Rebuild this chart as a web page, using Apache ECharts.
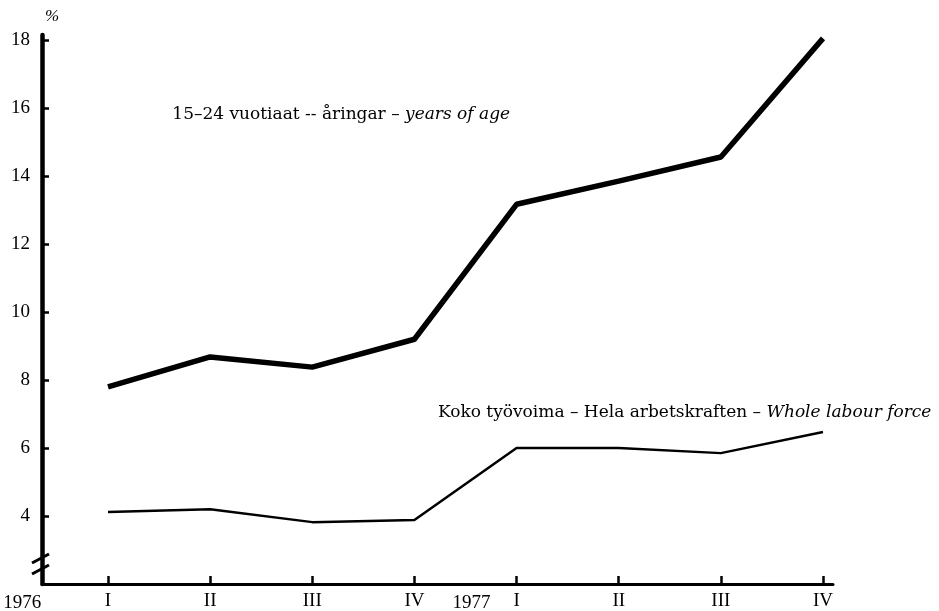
<!DOCTYPE html>
<html>
<head>
<meta charset="utf-8">
<script src="https://cdn.jsdelivr.net/npm/echarts@6/dist/echarts.min.js"></script>
<style>
  html, body { margin: 0; padding: 0; background: #fff; }
  #chart { width: 939px; height: 611px; }
</style>
</head>
<body>
<div id="chart"></div>
<script>
// quarters 1976 I .. 1977 IV at positions 1..8
const quarterPos = [1, 2, 3, 4, 5, 6, 7, 8]
const quarterLabels = ['I', 'II', 'III', 'IV', 'I', 'II', 'III', 'IV']
const years = ['1976', '1977']
const yearPos = [0.16, 4.56]
const youth = [7.8, 8.68, 8.38, 9.2, 13.17, 13.85, 14.56, 18.05]
const whole = [4.12, 4.2, 3.82, 3.88, 6.0, 6.0, 5.85, 6.47]
const yTicks = [4, 6, 8, 10, 12, 14, 16, 18]

const font = 'Liberation Serif, Times New Roman, serif'
const capFont = 'DejaVu Serif, serif'
const chart = echarts.init(document.getElementById('chart'))

const toPairs = vals => vals.map((v, i) => [quarterPos[i], v])

chart.setOption({
  animation: false,
  backgroundColor: '#fff',
  grid: { left: 42, right: 106, top: 35, bottom: 27 },
  xAxis: {
    type: 'value',
    min: 0.354,
    max: 8.098,
    splitLine: { show: false },
    axisLine: { lineStyle: { color: '#000', width: 3 } },
    axisTick: {
      customValues: quarterPos,
      inside: true,
      length: 8,
      lineStyle: { color: '#000', width: 2.5 }
    },
    axisLabel: {
      customValues: quarterPos,
      formatter: v => quarterLabels[quarterPos.indexOf(v)] || '',
      color: '#000',
      fontFamily: font,
      fontSize: 19,
      margin: 8
    }
  },
  yAxis: {
    type: 'value',
    min: 2,
    max: 18.15,
    name: '%',
    nameGap: 10,
    nameTextStyle: {
      color: '#000', fontFamily: font, fontSize: 17, fontStyle: 'italic',
      align: 'left', padding: [0, 0, 0, 3]
    },
    splitLine: { show: false },
    axisLine: { lineStyle: { color: '#000', width: 4.5 } },
    axisTick: {
      customValues: yTicks,
      inside: true,
      length: 7,
      lineStyle: { color: '#000', width: 2.5 }
    },
    axisLabel: {
      customValues: yTicks,
      color: '#000',
      fontFamily: font,
      fontSize: 19,
      margin: 12
    }
  },
  series: [
    {
      type: 'line',
      data: toPairs(youth),
      symbol: 'none',
      lineStyle: { color: '#000', width: 5.5 }
    },
    {
      type: 'line',
      data: toPairs(whole),
      symbol: 'none',
      lineStyle: { color: '#000', width: 2.5 }
    }
  ]
})

const px = (x, y) => chart.convertToPixel({ gridIndex: 0 }, [x, y])

// year labels under the axis, break marks on the y axis, series captions
const graphics = years.map((t, i) => {
  const p = px(yearPos[i], 2)
  return {
    type: 'text',
    x: p[0],
    y: p[1] + 10,
    style: { text: t, fill: '#000', font: '19px ' + font, align: 'center', verticalAlign: 'top' }
  }
})

const axisX = px(0.354, 2)[0]
;[556, 567].forEach(y => {
  graphics.push({
    type: 'line',
    shape: { x1: axisX - 10, y1: y + 7, x2: axisX + 7, y2: y - 2 },
    style: { stroke: '#000', lineWidth: 3 }
  })
})

const capStyle = {
  fill: '#000',
  font: '17px ' + capFont,
  verticalAlign: 'middle',
  rich: { i: { fontStyle: 'italic', fontFamily: capFont, fontSize: 17, fill: '#000' } }
}

const capYouth = px(1.63, 15.8)
graphics.push({
  type: 'text',
  x: capYouth[0],
  y: capYouth[1],
  style: Object.assign({ text: '15–24 vuotiaat -- åringar – {i|years of age}' }, capStyle)
})

const capWhole = px(4.23, 7.05)
graphics.push({
  type: 'text',
  x: capWhole[0],
  y: capWhole[1],
  style: Object.assign({ text: 'Koko työvoima – Hela arbetskraften – {i|Whole labour force}' }, capStyle)
})

chart.setOption({ graphic: graphics })
</script>
</body>
</html>
